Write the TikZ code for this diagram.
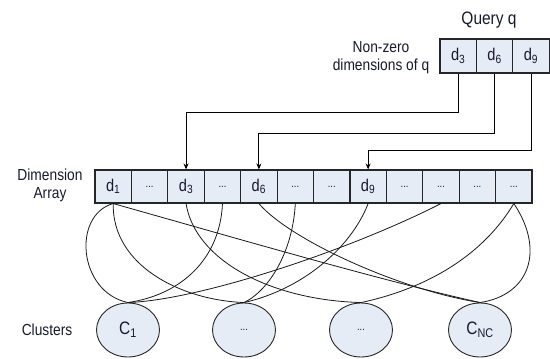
\documentclass[tikz,border=0pt]{standalone}
\usepackage{fontspec}
\setmainfont{Liberation Sans}[FakeStretch=0.86]
\usetikzlibrary{arrows.meta,shapes.geometric,calc}
\definecolor{cellfill}{RGB}{230,236,246}
\definecolor{txt}{RGB}{25,25,45}
\tikzset{
  cellbox/.style={draw=black!85, line width=1.1pt, fill=cellfill, minimum width=36.4pt, minimum height=33pt, inner sep=0pt, text=txt, font=\fontsize{17}{19}\selectfont},
  qbox/.style={draw=black!85, line width=1.1pt, fill=cellfill, minimum width=36.4pt, minimum height=34pt, inner sep=0pt, text=txt, font=\fontsize{17}{19}\selectfont},
  clus/.style={draw=black!85, line width=0.9pt, fill=cellfill, ellipse, minimum width=63pt, minimum height=54pt, inner sep=0pt, text=txt, font=\fontsize{18}{20}\selectfont},
  lbl/.style={text=txt, align=center, font=\fontsize{16}{18}\selectfont},
  arr/.style={line width=1pt, -{Stealth[length=6pt,width=5pt]}},
  link/.style={line width=0.8pt, black!90},
}
\newcommand{\sdots}{\fontsize{11}{12}\selectfont...}
\begin{document}
\begin{tikzpicture}[x=1pt,y=-1pt]
\useasboundingbox (0,0) rectangle (550,359);
% query cells
\node[qbox] (q1) at (458.2,56) {d\textsubscript{3}};
\node[qbox] (q2) at (494.6,56) {d\textsubscript{6}};
\node[qbox] (q3) at (531,56) {d\textsubscript{9}};
\node[lbl, font=\fontsize{18}{20}\selectfont] (ql) at (489,20) {Query q};
\node[lbl] (nz) at (381,58) {Non-zero\\dimensions of q};
% dimension array
\foreach \i/\t in {1/d\textsubscript{1},2/\sdots,3/d\textsubscript{3},4/\sdots,5/d\textsubscript{6},6/\sdots,7/\sdots,8/d\textsubscript{9},9/\sdots,10/\sdots,11/\sdots,12/\sdots}{
  \node[cellbox] (a\i) at ({95+36.42*(\i-0.5)},186.5) {\t};
}
\node[lbl] (dl) at (50,185) {Dimension\\Array};
% clusters
\node[clus] (c1) at (128,330) {C\textsubscript{1}};
\node[clus] (c2) at (244,330) {\sdots};
\node[clus] (c3) at (361,330) {\sdots};
\node[clus] (c4) at (480,330) {C\textsubscript{NC}};
\node[lbl] (cl) at (47,330) {Clusters};
% arrows
\draw[arr] (q1.south) -- (q1.south |- 0,112) -| (a3.north);
\draw[arr] (q2.south) -- (q2.south |- 0,133) -| (a5.north);
\draw[arr] (q3.south) -- (q3.south |- 0,150) -| (a8.north);
% links
\draw[link] (a1.south) .. controls (72,215) and (78,292) .. (c1.north);
\draw[link] (a1.south) .. controls (112,265) and (180,300) .. (c2.north);
\draw[link] (a1.south) .. controls (260,245) and (380,280) .. (c4.north);
\draw[link] (a3.south) .. controls (195,260) and (270,300) .. (c3.north);
\draw[link] (a4.south) .. controls (220,260) and (180,295) .. (c1.north);
\draw[link] (a5.south) .. controls (290,240) and (400,290) .. (c4.north);
\draw[link] (a6.south) .. controls (293,250) and (270,290) .. (c2.north);
\draw[link] (a8.south) .. controls (350,250) and (300,290) .. (c2.north);
\draw[link] (a10.south) .. controls (350,250) and (200,300) .. (c1.north);
\draw[link] (a12.south) .. controls (480,260) and (420,290) .. (c3.north);
\draw[link] (a12.south) .. controls (545,250) and (530,295) .. (c4.north);
\end{tikzpicture}
\end{document}
